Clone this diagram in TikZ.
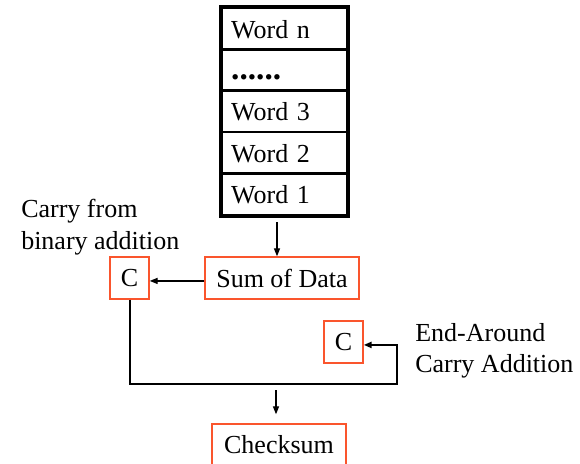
\documentclass[tikz,border=0pt]{standalone}
\usepackage{fontspec}
\setmainfont{Liberation Serif}
\usetikzlibrary{arrows.meta}
\definecolor{boxred}{RGB}{250,85,45}
\newcommand{\rowdots}{{\fontsize{25pt}{25pt}\selectfont\bfseries ......}}
\begin{document}
\begin{tikzpicture}[x=0.75pt,y=-0.75pt,
  every node/.style={font=\fontsize{19.5pt}{23.6pt}\selectfont},
  wordrow/.style={draw, line width=1.9pt, minimum width=93.75pt, minimum height=31pt,
    text width=79.95pt, text height=15pt, text depth=0.8pt,
    inner xsep=6.9pt, inner ysep=0pt, align=left},
  redbox/.style={draw=boxred, line width=1.1pt, minimum height=31.5pt, inner xsep=5pt, align=center},
  arr/.style={-{Triangle[length=6pt,width=4.6pt]}, line width=0.9pt},
  note/.style={align=left, anchor=west, inner sep=0pt}
]
\useasboundingbox (0,0) rectangle (580,463);
\clip (0,0) rectangle (580,463);

% stack of data words
\node[wordrow] (wn) at (284.5,28.7) {Word n};
\node[wordrow] (wd) at (284.5,70.1) {\rowdots};
\node[wordrow] (w3) at (284.5,111.5) {Word 3};
\node[wordrow] (w2) at (284.5,152.9) {Word 2};
\node[wordrow] (w1) at (284.5,194.3) {Word 1};
\draw[line width=3pt] (wn.north west) rectangle (w1.south east);

% adder blocks
\node[redbox, minimum width=115.5pt] (sum) at (282,278) {Sum of Data};
\node[redbox, minimum width=29.25pt] (c1) at (129.5,278) {C};
\node[redbox, minimum width=29.25pt] (c2) at (343.5,342) {C};
\node[redbox, minimum width=100.5pt] (chk) at (279,445) {Checksum};

% labels
\node[note] (carrylbl) at (21,227) {Carry from\\binary addition};
\node[note] (eaclbl) at (415,351) {End-Around\\Carry Addition};

% connectors
\coordinate (tap) at (277,222);
\draw[arr] (tap) -- (tap |- sum.north);
\draw[arr] ([yshift=-2.2pt]sum.west) -- ([yshift=-2.2pt]c1.east);
\coordinate (loopR) at (397,384);
\draw[arr, line width=1.5pt, line join=miter] (c1.south) |- (loopR) |- ([yshift=-2.2pt]c2.east);
\coordinate (drop) at (276,390);
\draw[arr, shorten >=6.75pt] (drop) -- (drop |- chk.north);
\end{tikzpicture}
\end{document}
